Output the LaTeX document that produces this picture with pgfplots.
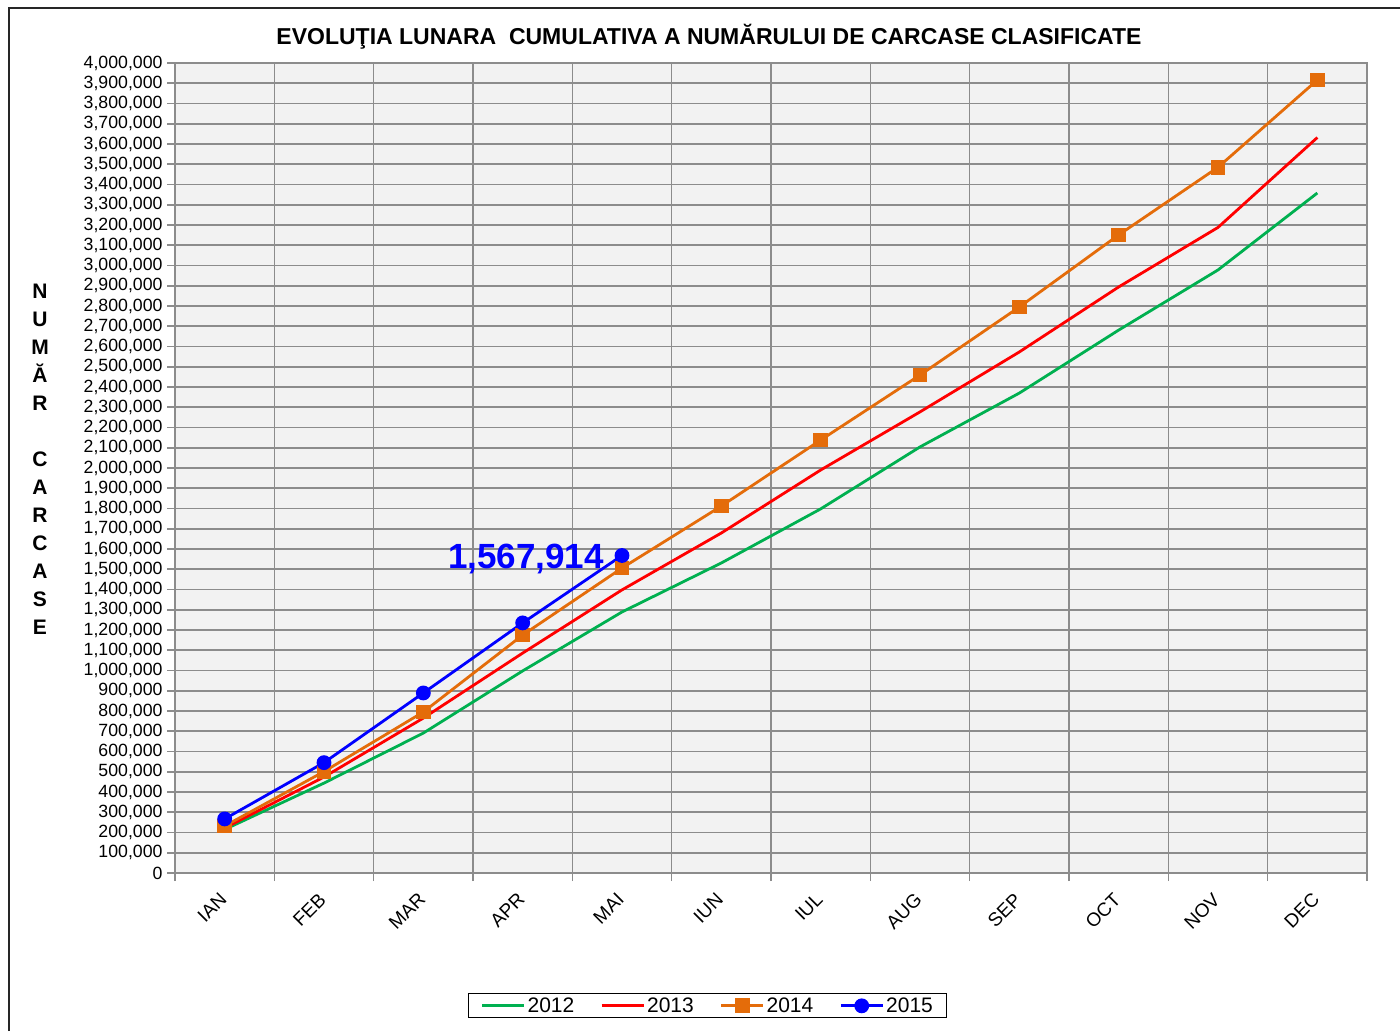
\documentclass[border=0pt]{standalone}
\usepackage{pgfplots}
\pgfplotsset{compat=1.18}
\usepackage{fontspec}
\setmainfont{Liberation Sans}
\definecolor{cgreen}{HTML}{00B050}
\definecolor{cred}{HTML}{FF0000}
\definecolor{corange}{HTML}{E46C0A}
\definecolor{cblue}{HTML}{0000FF}
\definecolor{cbg}{HTML}{F2F2F2}
\definecolor{cgrid}{HTML}{8C8C8C}
\begin{document}
\begin{tikzpicture}[x=1pt,y=1pt]
\path[use as bounding box] (0,0) rectangle (1400,1031);
\draw[line width=2pt,black!85] (9,0) -- (9,1023) -- (1400,1023);
\begin{axis}[
  scale only axis,
  width=1192pt, height=810pt,
  at={(175pt,158pt)}, anchor=south west,
  xmin=-0.5, xmax=11.5, ymin=0, ymax=4000000,
  axis background/.style={fill=cbg},
  xtick={0,1,2,3,4,5,6,7,8,9,10,11},
  xticklabels={IAN,FEB,MAR,APR,MAI,IUN,IUL,AUG,SEP,OCT,NOV,DEC},
  minor xtick={-0.5,0.5,1.5,2.5,3.5,4.5,5.5,6.5,7.5,8.5,9.5,10.5,11.5},
  xminorgrids=true,
  major x tick style={draw=none},
  minor tick length=8pt,
  ytick distance=100000,
  ymajorgrids=true,
  major tick length=8pt,
  tick align=outside,
  tick pos=left,
  grid style={cgrid, line width=1.6pt},
  minor grid style={cgrid, line width=1.6pt},
  tick style={cgrid, line width=1.6pt},
  axis line style={cgrid, line width=1.6pt},
  scaled y ticks=false,
  /pgf/number format/fixed,
  /pgf/number format/precision=0,
  /pgf/number format/1000 sep={,},
  /pgf/number format/assume math mode=true,
  yticklabel style={font=\fontsize{17.7}{17.7}\selectfont, xshift=-1pt},
  xticklabel style={font=\fontsize{19}{19}\selectfont, xshift=1pt, yshift=-13pt, rotate=45, anchor=east},
  legend columns=4,
  legend style={at={(0.447,-0.164)}, anchor=center, draw=black, line width=1pt,
    font=\fontsize{21}{21}\selectfont, inner xsep=12pt, inner ysep=2pt,
    /tikz/every even column/.append style={column sep=24pt}},
  legend image code/.code={\draw[#1, mark repeat=2, mark phase=2] plot coordinates {(0pt,0pt) (21pt,0pt) (42pt,0pt)};},
  clip=false,
]
\addplot[cgreen, line width=2.8pt, mark=none] coordinates {
 (0,215000) (1,444000) (2,691000) (3,998000) (4,1289000) (5,1531000)
 (6,1798000) (7,2104000) (8,2370000) (9,2681000) (10,2978000) (11,3358000)};
\addlegendentry{2012}
\addplot[cred, line width=2.8pt, mark=none] coordinates {
 (0,222000) (1,474000) (2,765000) (3,1086000) (4,1398000) (5,1679000)
 (6,1990000) (7,2277000) (8,2573000) (9,2894000) (10,3188000) (11,3632000)};
\addlegendentry{2013}
\addplot[corange, line width=2.8pt, mark=square*, mark size=6pt, mark options={solid}] coordinates {
 (0,232000) (1,501000) (2,795000) (3,1175000) (4,1506000) (5,1812000)
 (6,2138000) (7,2459000) (8,2795000) (9,3151000) (10,3485000) (11,3916000)};
\addlegendentry{2014}
\addplot[cblue, line width=2.8pt, mark=*, mark size=6pt, mark options={solid}] coordinates {
 (0,267000) (1,545000) (2,889000) (3,1235000) (4,1567914)};
\addlegendentry{2015}
\node[anchor=east, text=cblue, font=\bfseries\fontsize{35}{35}\selectfont, inner sep=0pt] at (axis cs:4,1567914) [xshift=-18pt, yshift=-3pt] {1,567,914};
\end{axis}
\node[font=\bfseries\fontsize{23}{23}\selectfont] at (709,994) {EVOLUŢIA LUNARA\ \ CUMULATIVA A NUMĂRULUI DE CARCASE CLASIFICATE};
\node[font=\bfseries\fontsize{21}{28}\selectfont, align=center, anchor=north] at (40,750) {N\\U\\M\\Ă\\R\\[28pt]C\\A\\R\\C\\A\\S\\E};
\end{tikzpicture}
\end{document}
